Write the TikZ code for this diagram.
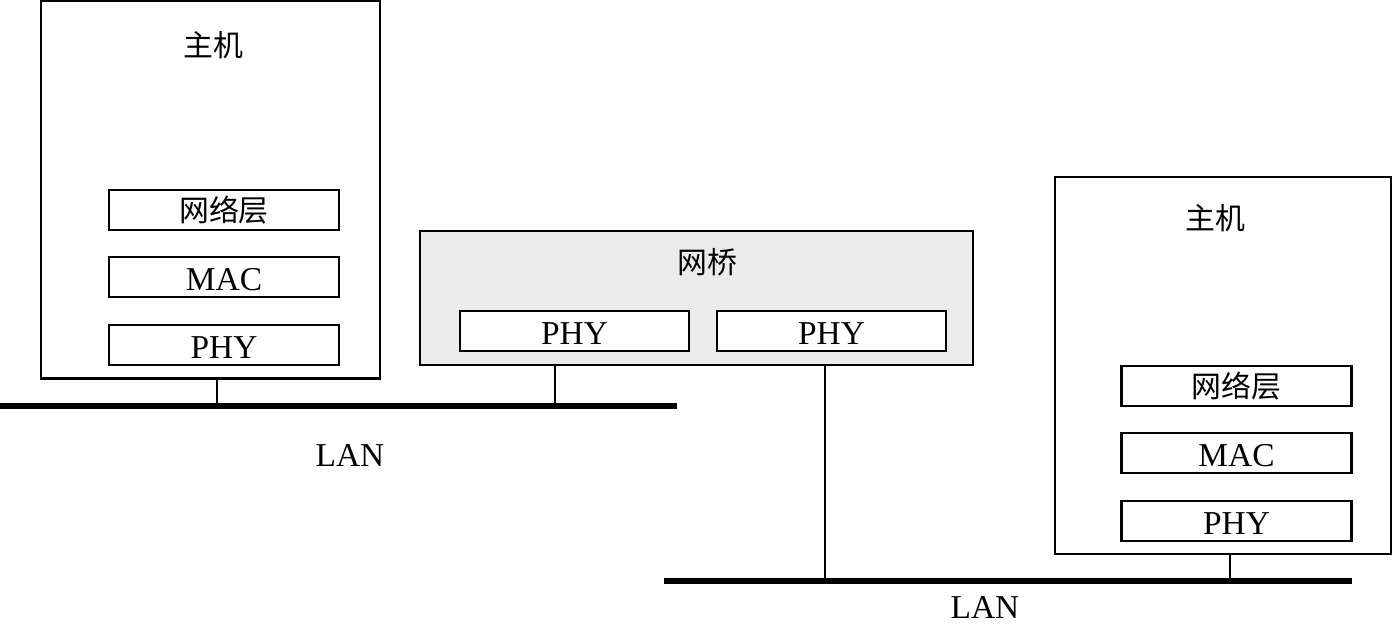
\documentclass[tikz,border=0pt]{standalone}
\usepackage{fontspec}
\setmainfont{Liberation Serif}
\newfontfamily\cjk{Noto Sans CJK SC}
\usetikzlibrary{positioning, calc}
\definecolor{cBridge}{RGB}{235,235,235}
\tikzset{
	hostbox/.style ={rectangle, draw=black, line width=1.5pt, inner sep=0pt},
	layer/.style   ={rectangle, draw=black, line width=1.5pt, minimum width=4.6cm, minimum height=0.8cm, inner sep=0pt, fill=white},
	latin/.style   ={text height=0.56cm, text depth=0pt},
	bridgebox/.style={rectangle, draw=black, line width=1.5pt, fill=cBridge, minimum width=11.06cm, minimum height=2.68cm, inner sep=0pt},
	title/.style   ={font=\cjk\fontsize{17}{20}\selectfont},
	bus/.style     ={line width=3.4pt},
	tap/.style     ={line width=1.1pt},
}
\begin{document}
\begin{tikzpicture}[font=\fontsize{19}{22}\selectfont]
	\useasboundingbox (0,0) rectangle (27.86,12.5);
	% left host
	\node[hostbox, minimum width=6.78cm, minimum height=7.56cm] (hostL) at (4.21,8.71) {};
	\node[title] (hostLt) at (4.26,11.6) {主机};
	\node[layer] (netL) at (4.48,8.3) {\cjk\fontsize{17}{20}\selectfont 网络层};
	\node[layer, latin] (macL) at (4.48,6.96) {MAC};
	\node[layer, latin] (phyL) at (4.48,5.6) {PHY};
	% bridge
	\node[bridgebox] (br) at (13.93,6.54) {};
	\node[title] (brt) at (14.14,7.26) {网桥};
	\node[layer, latin, minimum width=4.58cm] (phyA) at (11.49,5.88) {PHY};
	\node[layer, latin, minimum width=4.58cm] (phyB) at (16.63,5.88) {PHY};
	% right host
	\node[hostbox, minimum width=6.72cm, minimum height=7.54cm] (hostR) at (24.46,5.19) {};
	\node[title] (hostRt) at (24.3,8.14) {主机};
	\node[layer] (netR) at (24.73,4.78) {\cjk\fontsize{17}{20}\selectfont 网络层};
	\node[layer, latin] (macR) at (24.73,3.44) {MAC};
	\node[layer, latin] (phyR) at (24.73,2.08) {PHY};
	% upper LAN
	\coordinate (lanAw) at (0,4.38);
	\coordinate (lanAe) at (13.54,4.38);
	\draw[bus] (lanAw) -- (lanAe);
	\coordinate (tapL) at (4.34,4.38);
	\coordinate (tapA) at (11.1,4.38);
	\draw[tap] (tapL |- hostL.south) -- (tapL);
	\draw[tap] (tapA |- br.south) -- (tapA);
	\node (lanA) at (7.0,3.4) {LAN};
	% lower LAN
	\coordinate (lanBw) at (13.28,0.88);
	\coordinate (lanBe) at (27.04,0.88);
	\draw[bus] (lanBw) -- (lanBe);
	\coordinate (tapB) at (16.5,0.88);
	\coordinate (tapR) at (24.6,0.88);
	\draw[tap] (tapB |- br.south) -- (tapB);
	\draw[tap] (tapR |- hostR.south) -- (tapR);
	\node (lanB) at (19.7,0.36) {LAN};
\end{tikzpicture}
\end{document}
